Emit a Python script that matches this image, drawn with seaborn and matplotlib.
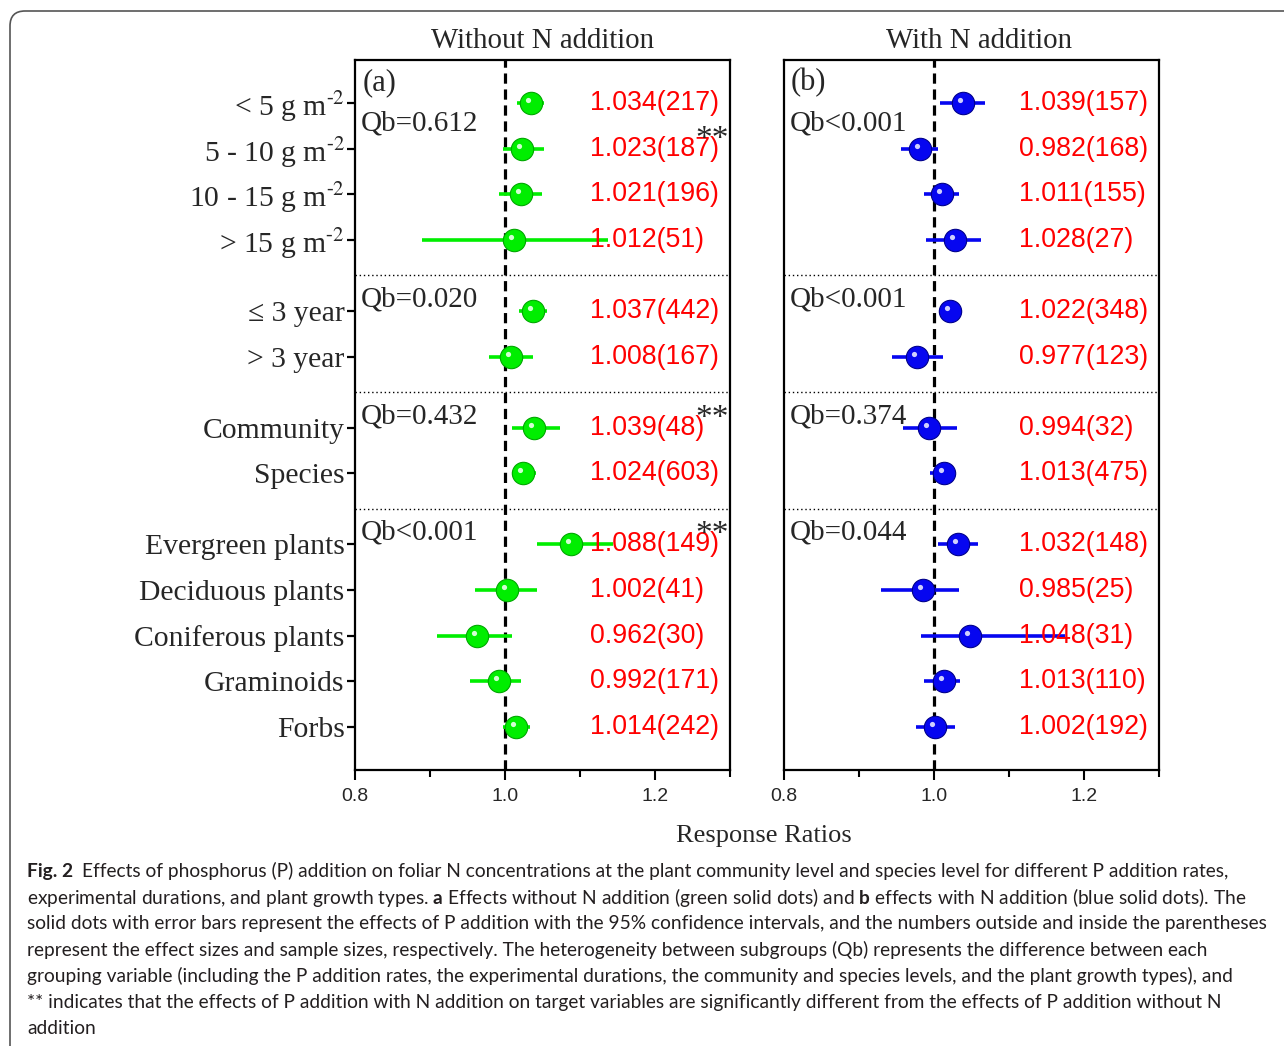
import numpy as np
import pandas as pd
import matplotlib.pyplot as plt
import seaborn as sns
from matplotlib.patches import FancyBboxPatch
from matplotlib.transforms import offset_copy

# data
categories = [r'< 5 g m$^{\text{-2}}$', r'5 - 10 g m$^{\text{-2}}$', r'10 - 15 g m$^{\text{-2}}$',
              r'> 15 g m$^{\text{-2}}$',
              '≤ 3 year', '> 3 year',
              'Community', 'Species',
              'Evergreen plants', 'Deciduous plants', 'Coniferous plants', 'Graminoids', 'Forbs']
groups = [0, 0, 0, 0, 1, 1, 2, 2, 3, 3, 3, 3, 3]

rr_without = [1.034, 1.023, 1.021, 1.012, 1.037, 1.008, 1.039, 1.024, 1.088, 1.002, 0.962, 0.992, 1.014]
lo_without = [1.016, 0.997, 0.992, 0.889, 1.019, 0.979, 1.009, 1.009, 1.043, 0.960, 0.909, 0.953, 0.997]
hi_without = [1.052, 1.052, 1.049, 1.137, 1.056, 1.037, 1.073, 1.041, 1.144, 1.043, 1.009, 1.021, 1.033]
n_without = [217, 187, 196, 51, 442, 167, 48, 603, 149, 41, 30, 171, 242]

rr_with = [1.039, 0.982, 1.011, 1.028, 1.022, 0.977, 0.994, 1.013, 1.032, 0.985, 1.048, 1.013, 1.002]
lo_with = [1.008, 0.956, 0.987, 0.989, 1.007, 0.944, 0.959, 0.995, 1.005, 0.929, 0.983, 0.987, 0.976]
hi_with = [1.068, 1.005, 1.033, 1.063, 1.037, 1.012, 1.031, 1.028, 1.059, 1.033, 1.175, 1.035, 1.028]
n_with = [157, 168, 155, 27, 348, 123, 32, 475, 148, 25, 31, 110, 192]

qb_without = ['Qb=0.612', 'Qb=0.020', 'Qb=0.432', 'Qb<0.001']
qb_with = ['Qb<0.001', 'Qb<0.001', 'Qb=0.374', 'Qb=0.044']
star_rows = [1, 6, 8]

caption_head = 'Fig. 2'
caption = [
    'Effects of phosphorus (P) addition on foliar N concentrations at the plant community level and species level for different P addition rates,',
    r'experimental durations, and plant growth types. $\mathbf{a}$ Effects without N addition (green solid dots) and $\mathbf{b}$ effects with N addition (blue solid dots). The',
    'solid dots with error bars represent the effects of P addition with the 95% confidence intervals, and the numbers outside and inside the parentheses',
    'represent the effect sizes and sample sizes, respectively. The heterogeneity between subgroups (Qb) represents the difference between each',
    'grouping variable (including the P addition rates, the experimental durations, the community and species levels, and the plant growth types), and',
    '** indicates that the effects of P addition with N addition on target variables are significantly different from the effects of P addition without N',
    'addition',
]

sns.set_theme(style='ticks')
plt.rcParams['font.family'] = ['Liberation Serif', 'DejaVu Serif']
plt.rcParams['mathtext.fontset'] = 'stix'
plt.rcParams['mathtext.rm'] = 'Lato'
plt.rcParams['mathtext.bf'] = 'Lato:bold'

gap = 0.555
pos = np.arange(len(categories)) + np.array(groups) * gap
df = pd.DataFrame({'cat': categories, 'group': groups, 'pos': pos,
                   'rr_a': rr_without, 'lo_a': lo_without, 'hi_a': hi_without, 'n_a': n_without,
                   'rr_b': rr_with, 'lo_b': lo_with, 'hi_b': hi_with, 'n_b': n_with})

fig = plt.figure(figsize=(12.84, 10.46), dpi=100)
W, H = 1284, 1046
ax_a = fig.add_axes([355 / W, 1 - 770 / H, 375 / W, 710 / H])
ax_b = fig.add_axes([784 / W, 1 - 770 / H, 375 / W, 710 / H])

panels = [(ax_a, 'a', '#00ee00', '#00a800', '#eaffea', qb_without, 'Without N addition', '(a)', 0.5),
          (ax_b, 'b', '#0606f0', '#00008c', '#e6e6ff', qb_with, 'With N addition', '(b)', 0.521)]

first_rows = [groups.index(g) for g in sorted(set(groups))]
seps = [(pos[i - 1] + pos[i]) / 2 for i in first_rows[1:]]

for ax, k, col, edge, hl, qbs, title, tag, tx in panels:
    ax.hlines(df['pos'], df['lo_' + k], df['hi_' + k], color=col, lw=2.6, zorder=2)
    sns.scatterplot(data=df, x='rr_' + k, y='pos', ax=ax, s=260, color=col,
                    edgecolor=edge, linewidth=0.8, zorder=3, legend=False)
    shine = offset_copy(ax.transData, fig=fig, x=-3, y=3, units='dots')
    ax.scatter(df['rr_' + k], df['pos'], s=14, color=hl, alpha=0.9,
               transform=shine, zorder=4, linewidths=0)
    ax.axvline(1.0, color='black', ls=(0, (3.2, 1.8)), lw=2.3, zorder=1)
    for s in seps:
        ax.axhline(s, color='black', ls=(0, (1, 2)), lw=1.0, zorder=1)

    for p, r, n in zip(df['pos'], df['rr_' + k], df['n_' + k]):
        ax.text(1.113, p, f'{r:.3f}({n})', color='#ff0000', fontsize=19.3,
                family='Liberation Sans', va='center', ha='left', zorder=5)

    for gi, fr in enumerate(first_rows):
        yq = pos[fr] + 0.45 if gi == 0 else pos[fr] - 0.25
        ax.text(0.808, yq, qbs[gi], fontsize=21, va='center', ha='left')

    ax.text(0.019, 0.989, tag, transform=ax.transAxes, fontsize=22, va='top', ha='left')
    ax.set_title(title, fontsize=20.8, pad=8.5, x=tx)

    ax.set_xlim(0.8, 1.3)
    ax.set_ylim(pos[-1] + 0.94, -0.94)
    ax.set_xticks([0.8, 1.0, 1.2], labels=['0.8', '1.0', '1.2'])
    ax.set_xticks([0.9, 1.1, 1.3], minor=True)
    for t in ax.get_xticklabels():
        t.set_family('Liberation Sans')
    ax.tick_params(axis='x', which='major', direction='out', length=7, width=1.5,
                   labelsize=14, pad=6, color='black')
    ax.tick_params(axis='x', which='minor', direction='out', length=5, width=1.5, color='black')
    ax.set_xlabel('')
    ax.set_ylabel('')
    for sp in ax.spines.values():
        sp.set_visible(True)
        sp.set_linewidth(1.6)
        sp.set_color('black')

ax_a.set_yticks(pos, labels=categories)
ax_a.tick_params(axis='y', direction='out', length=6, width=1.6, labelsize=21.3, pad=1.5, color='black')
ax_b.set_yticks(pos, labels=[])
ax_b.tick_params(axis='y', left=False)

for r in star_rows:
    ax_a.text(1.276, pos[r] - 0.2, '**', fontsize=24, ha='center', va='center', zorder=6)

fig.text(764 / W, 1 - 836 / H, 'Response Ratios', fontsize=19, ha='center', va='center')

cap_kw = dict(fontsize=13.8, family='Lato', color='#231f20', va='center', math_fontfamily='custom')
head = fig.text(27 / W, 1 - 871 / H, caption_head, ha='left', weight='bold', **cap_kw)
ax_a.annotate(caption[0], xy=(1, 0.5), xycoords=head, xytext=(9, 0), textcoords='offset pixels',
              ha='left', annotation_clip=False, **cap_kw)
for i, line in enumerate(caption[1:], start=1):
    fig.text(27 / W, 1 - (871 + 26.3 * i) / H, line, ha='left', **cap_kw)

frame = FancyBboxPatch((0.10, -1.0), 14.0, 11.35, boxstyle='round,pad=0,rounding_size=0.15',
                       transform=fig.dpi_scale_trans, fill=False, edgecolor='#555555', lw=1.2)
fig.add_artist(frame)

fig.savefig('out.png', dpi=100)
